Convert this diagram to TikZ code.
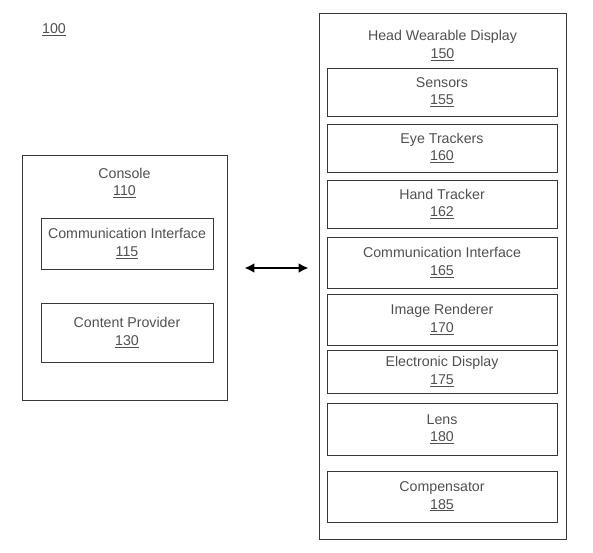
\documentclass[tikz,border=0pt]{standalone}
\usepackage{fontspec}
\setmainfont{Liberation Sans}
\usetikzlibrary{arrows.meta}
\definecolor{mygray}{RGB}{80,80,80}
\definecolor{myline}{RGB}{55,55,55}

\begin{document}
\begin{tikzpicture}[x=1pt,y=-1pt,
		frame/.style={draw=myline, line width=0.9pt, inner sep=0pt},
		txt/.style={text=mygray, align=center, font=\fontsize{14.2}{17.5}\selectfont},
		part/.style={frame, txt, minimum width=230pt},
		cpart/.style={frame, txt, minimum width=172pt}]
		\useasboundingbox (0,0) rectangle (593,552);
		
		\node[txt] (fig) at (54,30) {\underline{100}};
		
		%Console
		\node[frame, minimum width=205pt, minimum height=245pt] (console) at (124.5,277.5) {};
		\node[txt] (consoletitle) at (124.5,183) {Console\\\underline{110}};
		\node[cpart, minimum height=51pt] (comm1) at (127,243.5) {Communication Interface\\\underline{115}};
		\node[cpart, minimum height=59pt] (content) at (127,332.5) {Content Provider\\\underline{130}};
		
		%Head wearable display
		\node[frame, minimum width=247pt, minimum height=526pt] (hwd) at (442.5,276) {};
		\node[txt] (hwdtitle) at (442.5,45.5) {Head Wearable Display\\\underline{150}};
		\node[part, minimum height=48pt] (sensors) at (442,92) {Sensors\\\underline{155}};
		\node[part, minimum height=48pt] (eye) at (442,148) {Eye Trackers\\\underline{160}};
		\node[part, minimum height=48pt] (hand) at (442,204) {Hand Tracker\\\underline{162}};
		\node[part, minimum height=51pt] (comm2) at (442,262.5) {Communication Interface\\\underline{165}};
		\node[part, minimum height=51pt] (render) at (442,319.5) {Image Renderer\\\underline{170}};
		\node[part, minimum height=43pt] (display) at (442,371.5) {Electronic Display\\\underline{175}};
		\node[part, minimum height=52pt] (lens) at (442,429) {Lens\\\underline{180}};
		\node[part, minimum height=51pt] (comp) at (442,496.5) {Compensator\\\underline{185}};
		
		\draw[black, line width=2.2pt, {Latex[length=10pt,width=10pt]}-{Latex[length=10pt,width=10pt]},
		shorten <=17pt, shorten >=10pt]
		([yshift=9.5pt]console.east) -- ([yshift=8pt]hwd.west);
		
	\end{tikzpicture}
\end{document}
